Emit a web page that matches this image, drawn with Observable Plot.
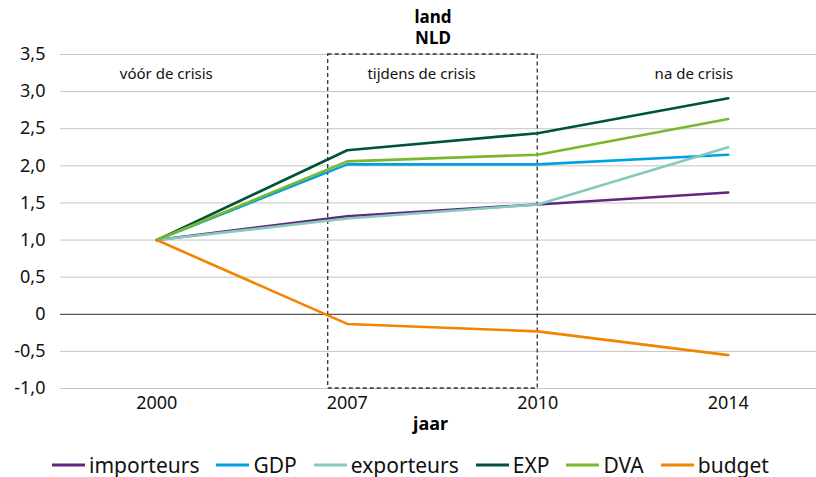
<!DOCTYPE html>
<html>
<head>
<meta charset="utf-8">
<script src="https://cdn.jsdelivr.net/npm/d3@7"></script>
<script src="https://cdn.jsdelivr.net/npm/@observablehq/plot@0.6"></script>
<style>
  body { margin: 0; background: #fff; font-family: "Noto Sans", sans-serif; width: 816px; height: 477px; overflow: hidden; }
  #title { box-sizing: border-box; width: 816px; height: 40px; padding-top: 6px; padding-left: 50px; text-align: center; font-weight: bold; font-size: 17px; line-height: 21px; color: #000; position: relative; z-index: 1; }
  #chart { height: 400px; }
  #legend { display: flex; padding-left: 52px; padding-top: 12px; font-size: 21px; line-height: 26px; color: #111; }
  .item { display: flex; align-items: center; margin-right: 17px; }
  .item svg { margin-right: 4px; }
</style>
</head>
<body>
<div id="title">land<br>NLD</div>
<div id="chart"></div>
<div id="legend"></div>
<script>
const years = ["2000", "2007", "2010", "2014"];
const seriesNames = ["importeurs", "GDP", "exporteurs", "EXP", "DVA", "budget"];
const seriesColors = ["#62267f", "#00a0e2", "#86cabd", "#00533b", "#78b82a", "#f28400"];
const importeurs = [1.0, 1.32, 1.48, 1.64];
const GDP = [1.0, 2.02, 2.02, 2.15];
const exporteurs = [1.0, 1.29, 1.48, 2.25];
const EXP = [1.0, 2.21, 2.44, 2.91];
const DVA = [1.0, 2.06, 2.15, 2.63];
const budget = [1.0, -0.13, -0.23, -0.55];
const yTicks = [-1, -0.5, 0, 0.5, 1, 1.5, 2, 2.5, 3, 3.5];
const yTickLabels = ["-1,0", "-0,5", "0", "0,5", "1,0", "1,5", "2,0", "2,5", "3,0", "3,5"];
const periodLabels = ["vóór de crisis", "tijdens de crisis", "na de crisis"];
const periodX = [0.05, 1.39, 2.82];
const periodY = 3.23;
const crisisBox = {x1: 0.9, x2: 2.0, y1: -1.0, y2: 3.5};
const xLabel = "jaar";

const values = [importeurs, GDP, exporteurs, EXP, DVA, budget];
const data = [];
seriesNames.forEach((name, s) => {
  values[s].forEach((v, i) => data.push({series: name, i, value: v}));
});

const chart = Plot.plot({
  width: 816,
  height: 400,
  marginTop: 14,
  marginBottom: 52,
  marginLeft: 60,
  marginRight: 0,
  style: {fontFamily: "Noto Sans", fontSize: "18px", color: "#111", background: "#fff", overflow: "visible"},
  x: {domain: [-0.5, 3.5], range: [61, 823], label: null},
  y: {domain: [-1, 3.5], label: null},
  color: {domain: seriesNames, range: seriesColors},
  marks: [
    Plot.ruleY(yTicks.filter(d => d !== 0), {stroke: "#c4c4c4", strokeWidth: 1}),
    Plot.ruleY([0], {stroke: "#555", strokeWidth: 1.2}),
    Plot.axisY({ticks: yTicks, tickFormat: d => yTickLabels[yTicks.indexOf(d)], tickSize: 0, tickPadding: 15, fontSize: 18, label: null}),
    Plot.axisX({ticks: [0, 1, 2, 3], tickFormat: i => years[i], tickSize: 0, tickPadding: 8, fontSize: 18, label: null}),
    Plot.rect([crisisBox], {x1: "x1", x2: "x2", y1: "y1", y2: "y2", fill: "none", stroke: "#333", strokeWidth: 1.3, strokeDasharray: "4,3"}),
    Plot.line(data, {x: "i", y: "value", z: "series", stroke: "series", strokeWidth: 2.6}),
    Plot.text(periodLabels, {x: (d, k) => periodX[k], y: periodY, text: d => d, fontSize: 15, fill: "#111"}),
    Plot.text([xLabel], {frameAnchor: "bottom", dx: -8, dy: 41, text: d => d, fontSize: 18, fontWeight: "bold", fill: "#000"})
  ]
});
document.getElementById("chart").appendChild(chart);

const legend = document.getElementById("legend");
seriesNames.forEach((name, s) => {
  const item = document.createElement("div");
  item.className = "item";
  item.innerHTML = `<svg width="33" height="10"><line x1="0" x2="33" y1="5" y2="5" stroke="${seriesColors[s]}" stroke-width="3"/></svg><span>${name}</span>`;
  legend.appendChild(item);
});
</script>
</body>
</html>
